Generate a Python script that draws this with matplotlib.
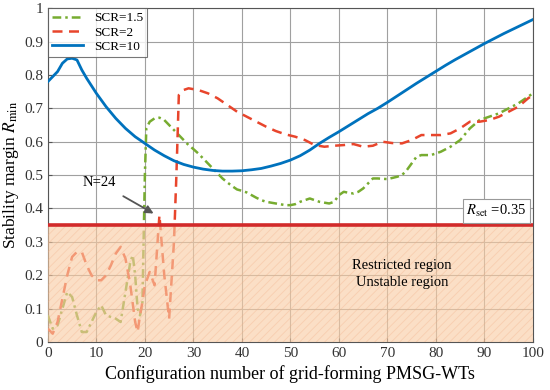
import matplotlib.pyplot as plt
import numpy as np

plt.rcParams['font.family'] = ['Liberation Serif', 'DejaVu Serif']
plt.rcParams['mathtext.fontset'] = 'stix'
plt.rcParams['hatch.linewidth'] = 0.6

# SCR=10
x10 = [0, 2, 3, 4, 5, 6, 7, 8, 10, 12, 14, 16, 18, 20, 22, 24, 26, 28, 30, 32, 34, 36, 38, 40,
       42, 44, 46, 48, 50, 52, 54, 56, 58, 60, 62, 64, 66, 68, 70, 72, 74, 76, 78, 80, 82, 84,
       86, 88, 90, 92, 94, 96, 98, 100]
y10 = [0.78, 0.81, 0.835, 0.848, 0.85, 0.845, 0.815, 0.79, 0.745, 0.705, 0.67, 0.64, 0.615,
       0.595, 0.575, 0.558, 0.543, 0.532, 0.524, 0.518, 0.514, 0.512, 0.512, 0.513, 0.516,
       0.52, 0.527, 0.535, 0.545, 0.558, 0.575, 0.595, 0.613, 0.63, 0.648, 0.666, 0.684, 0.70,
       0.718, 0.737, 0.756, 0.775, 0.793, 0.811, 0.829, 0.846, 0.862, 0.878, 0.894, 0.909,
       0.924, 0.938, 0.952, 0.966]

# SCR=2
x2 = [0, 1, 2, 3, 4, 5, 6, 7, 8, 9, 10, 11, 12, 13, 14, 15, 16, 17, 18, 18.5, 19, 19.5, 20,
      21, 22, 23, 24, 25, 26, 26.5, 27, 28, 29, 31, 33, 35, 37, 39, 41, 43, 45, 47, 49, 51, 53,
      55, 57, 59, 61, 63, 65, 67, 69, 71, 73, 75, 77, 79, 81, 83, 85, 87, 89, 91, 93, 95, 97,
      99, 100]
y2 = [0.04, 0.025, 0.06, 0.13, 0.2, 0.255, 0.27, 0.27, 0.23, 0.2, 0.185, 0.185, 0.2, 0.23,
      0.265, 0.285, 0.25, 0.17, 0.06, 0.03, 0.08, 0.12, 0.17, 0.21, 0.17, 0.38, 0.2, 0.07, 0.3,
      0.5, 0.74, 0.755, 0.76, 0.755, 0.745, 0.73, 0.71, 0.69, 0.675, 0.66, 0.645, 0.632, 0.622,
      0.615, 0.605, 0.59, 0.585, 0.588, 0.59, 0.593, 0.585, 0.588, 0.6, 0.596, 0.595, 0.605,
      0.62, 0.62, 0.62, 0.625, 0.64, 0.66, 0.66, 0.665, 0.675, 0.69, 0.705, 0.73, 0.74]

# SCR=1.5
x15 = [0, 1, 2, 3, 4, 5, 6, 7, 8, 9, 10, 11, 12, 13, 14, 15, 16, 17, 17.5, 18, 18.5, 19, 19.5,
       20, 20.3, 21, 22, 23, 24, 25, 26, 27, 28, 29, 30, 31, 32, 33, 34, 35, 36, 37, 38, 39,
       40, 41, 42, 43, 44, 45, 47, 49, 50, 51, 52, 53, 54, 55, 56, 58, 59, 60, 61, 62, 63, 64,
       65, 66, 67, 68, 70, 72, 73, 74, 75, 76, 77, 79, 81, 83, 85, 87, 89, 91, 93, 95, 97, 99,
       100]
y15 = [0.08, 0.04, 0.05, 0.1, 0.15, 0.135, 0.08, 0.03, 0.03, 0.06, 0.09, 0.11, 0.08, 0.075,
       0.07, 0.06, 0.15, 0.24, 0.26, 0.2, 0.1, 0.08, 0.12, 0.5, 0.64, 0.66, 0.67, 0.672, 0.665,
       0.65, 0.635, 0.62, 0.605, 0.59, 0.578, 0.565, 0.55, 0.535, 0.52, 0.505, 0.49, 0.478,
       0.467, 0.457, 0.453, 0.448, 0.44, 0.432, 0.425, 0.42, 0.415, 0.41, 0.41, 0.413, 0.42,
       0.425, 0.43, 0.425, 0.42, 0.415, 0.42, 0.44, 0.45, 0.447, 0.445, 0.45, 0.46, 0.475, 0.49,
       0.49, 0.488, 0.495, 0.5, 0.515, 0.535, 0.555, 0.56, 0.56, 0.57, 0.585, 0.605, 0.64,
       0.665, 0.675, 0.685, 0.7, 0.715, 0.735, 0.745]

r_set = 0.35

fig = plt.figure(figsize=(5.5, 3.9), dpi=100)
ax = fig.add_axes([0.087, 0.123, 0.882, 0.856])

ax.plot(x15, y15, '-.', color='#77AC30', lw=1.8, label='SCR=1.5', zorder=3,
        dashes=(3.5, 1.6, 1, 1.6))
ax.plot(x2, y2, '--', color='#E8452C', lw=1.8, label='SCR=2', zorder=3, dashes=(4, 2.6))
ax.plot(x10, y10, '-', color='#0072BD', lw=2.0, label='SCR=10', zorder=3)

# unstable region
ax.fill_between([0, 100], 0, r_set, facecolor=(0.98, 0.80, 0.64, 0.62),
                edgecolor=(0.95, 0.68, 0.52, 0.35), hatch='////', lw=0, zorder=4)
ax.axhline(r_set, color='#D22A2A', lw=2.6, zorder=5)

ax.text(73, 0.228, 'Restricted region', ha='center', va='center', fontsize=10.5, zorder=6)
ax.text(73, 0.177, 'Unstable region', ha='center', va='center', fontsize=10.5, zorder=6)
ax.text(92.5, 0.393, r'$R_{\rm set}$ =0.35', ha='center', va='center', fontsize=10.5, zorder=6,
        bbox=dict(boxstyle='square,pad=0.25', fc='white', ec='#999999', lw=0.8))
ax.annotate('N=24', xy=(21.8, 0.385), xytext=(10.7, 0.477), ha='center', va='center',
            fontsize=10.5, zorder=6,
            arrowprops=dict(arrowstyle='-|>', color='#555555', lw=1.3, mutation_scale=12,
                            shrinkA=6, shrinkB=0))

ax.set_xlim(0, 100)
ax.set_ylim(0, 1)
ax.set_xticks(np.arange(0, 101, 10))
ax.set_yticks(np.arange(0, 1.01, 0.1))
ax.set_yticklabels(['0', '0.1', '0.2', '0.3', '0.4', '0.5', '0.6', '0.7', '0.8', '0.9', '1'])
ax.tick_params(direction='in', labelsize=11, length=3, color='#555555', labelcolor='#333333')
ax.grid(True, color='#a0a0a0', lw=0.8)
for s in ax.spines.values():
    s.set_color('#555555')

ax.set_xlabel('Configuration number of grid-forming PMSG-WTs', fontsize=13)
ax.set_ylabel(r'Stability margin $R_{\rm min}$', fontsize=12.5, labelpad=2)

leg = ax.legend(loc='upper left', fontsize=9.5, frameon=True, fancybox=False, borderaxespad=0,
                handlelength=2.4, labelspacing=0.15, borderpad=0.3, handletextpad=0.8,
                edgecolor='#555555')
leg.get_frame().set_linewidth(0.8)

fig.savefig('out.png', dpi=100)
